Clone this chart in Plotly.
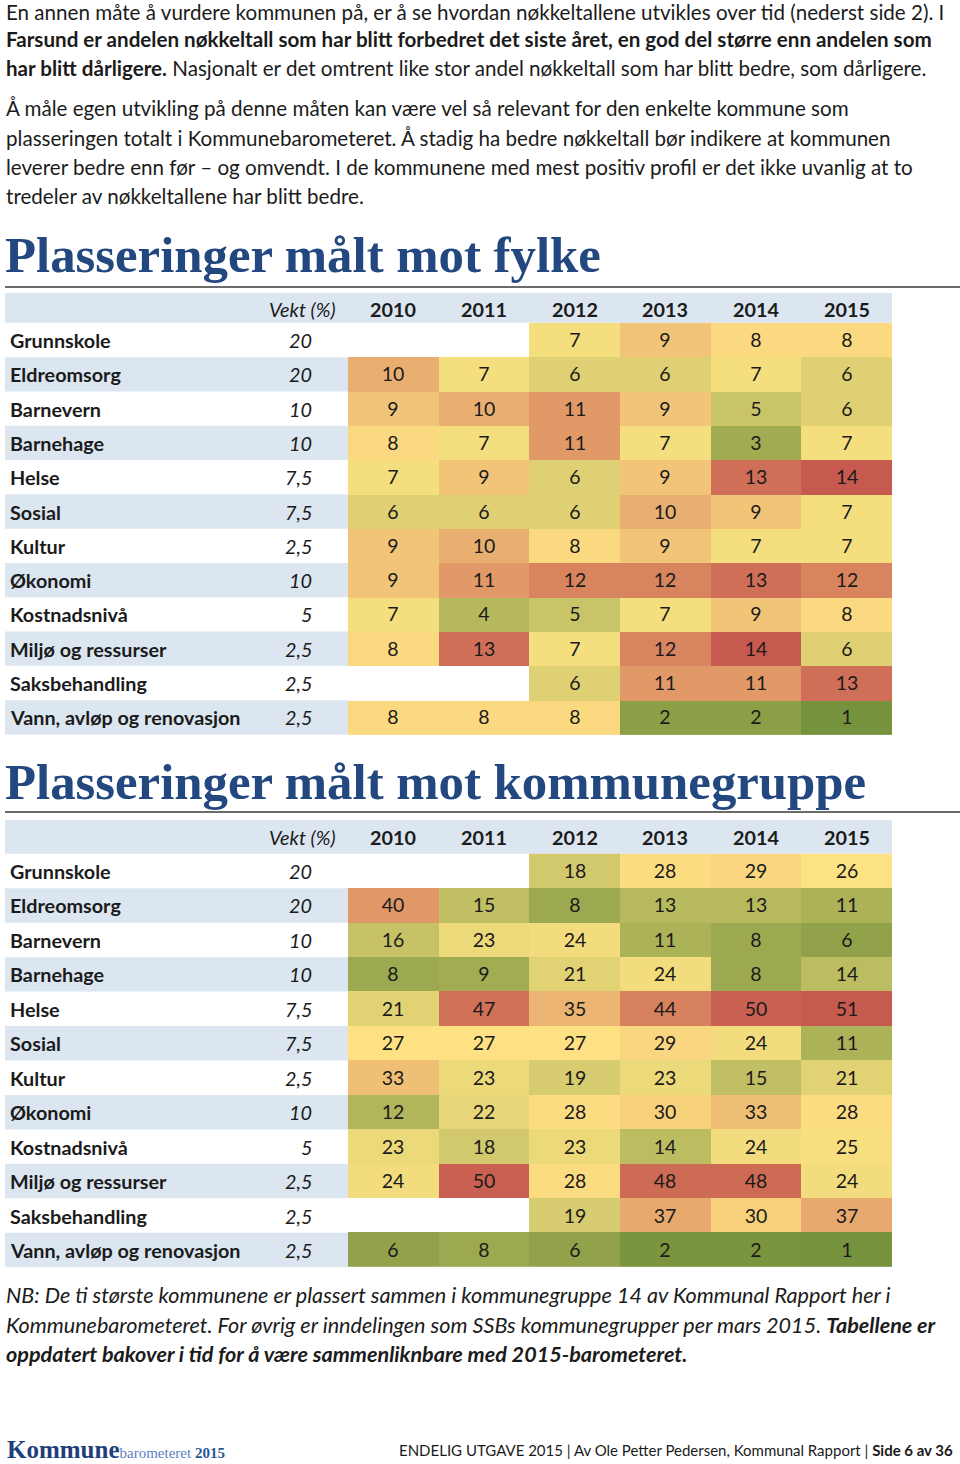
import numpy as np
import plotly.graph_objects as go

W, H = 960, 1464

# ---------------- data ----------------
years = ["2010", "2011", "2012", "2013", "2014", "2015"]
categories = ["Grunnskole", "Eldreomsorg", "Barnevern", "Barnehage", "Helse", "Sosial",
              "Kultur", "Økonomi", "Kostnadsnivå", "Miljø og ressurser",
              "Saksbehandling", "Vann, avløp og renovasjon"]
weights = ["20", "20", "10", "10", "7,5", "7,5", "2,5", "10", "5", "2,5", "2,5", "2,5"]

# Plasseringer målt mot fylke (one list per year, rows in category order)
fylke_2010 = [None, 10, 9, 8, 7, 6, 9, 9, 7, 8, None, 8]
fylke_2011 = [None, 7, 10, 7, 9, 6, 10, 11, 4, 13, None, 8]
fylke_2012 = [7, 6, 11, 11, 6, 6, 8, 12, 5, 7, 6, 8]
fylke_2013 = [9, 6, 9, 7, 9, 10, 9, 12, 7, 12, 11, 2]
fylke_2014 = [8, 7, 5, 3, 13, 9, 7, 13, 9, 14, 11, 2]
fylke_2015 = [8, 6, 6, 7, 14, 7, 7, 12, 8, 6, 13, 1]

# Plasseringer målt mot kommunegruppe
gruppe_2010 = [None, 40, 16, 8, 21, 27, 33, 12, 23, 24, None, 6]
gruppe_2011 = [None, 15, 23, 9, 47, 27, 23, 22, 18, 50, None, 8]
gruppe_2012 = [18, 8, 24, 21, 35, 27, 19, 28, 23, 28, 19, 6]
gruppe_2013 = [28, 13, 11, 24, 44, 29, 23, 30, 14, 48, 37, 2]
gruppe_2014 = [29, 13, 8, 8, 50, 24, 15, 33, 24, 48, 30, 2]
gruppe_2015 = [26, 11, 6, 14, 51, 11, 21, 28, 25, 24, 37, 1]

fylke_cols = [fylke_2010, fylke_2011, fylke_2012, fylke_2013, fylke_2014, fylke_2015]
gruppe_cols = [gruppe_2010, gruppe_2011, gruppe_2012, gruppe_2013, gruppe_2014, gruppe_2015]

# ---------------- styling ----------------
BODY = "Lato"
TITLE_FONT = "Liberation Serif"
BLUE = "#22487F"
STRIPE = "#DCE6F1"
GREEN, YELLOW, RED = "#76923C", "#FFE484", "#C75A4F"
INK = "#1b1b1b"

X0, CW = 393.3, 90.67          # centre of first year column, column width (px)


def px2x(px):
    return (px - X0) / CW


def py(px):
    return 1 - px / H


def build_z(cols):
    z = np.array([[np.nan if v is None else v for v in row]
                  for row in zip(*cols)], dtype=float)
    txt = [["" if v is None else str(v) for v in row] for row in zip(*cols)]
    return z, txt


fig = go.Figure()
annotations = []
shapes = []

tables = [
    # cols, yaxis, first-row centre px, row pitch px, header centre px, header top px, mid value
    (fylke_cols, "y", 340.0, 34.3, 309.0, 293.0, 7.5),
    (gruppe_cols, "y2", 871.0, 34.45, 837.0, 820.0, 26.5),
]

for cols, yax, c0, pitch, hc, htop, mid in tables:
    z, txt = build_z(cols)
    zmin, zmax = np.nanmin(z), np.nanmax(z)
    tmid = (mid - zmin) / (zmax - zmin)
    fig.add_trace(go.Heatmap(
        z=z, x=list(range(len(years))), y=list(range(len(categories))),
        text=txt, texttemplate="%{text}",
        textfont=dict(family=BODY, size=19.5, color=INK),
        colorscale=[[0, GREEN], [tmid, YELLOW], [1, RED]],
        zmin=zmin, zmax=zmax, showscale=False, hoverinfo="skip",
        xaxis="x", yaxis=yax, xgap=0, ygap=0,
    ))
    yref = yax
    hr = (hc - c0) / pitch
    htop_r = (htop - c0) / pitch
    # header stripe
    shapes.append(dict(type="rect", xref="x", yref=yref, x0=px2x(5), x1=px2x(892),
                       y0=htop_r, y1=-0.5, fillcolor=STRIPE, line_width=0, layer="below"))
    # row stripes + labels
    for r, cat in enumerate(categories):
        if r % 2 == 1:
            shapes.append(dict(type="rect", xref="x", yref=yref, x0=px2x(5), x1=-0.5,
                               y0=r - 0.5, y1=r + 0.5, fillcolor=STRIPE, line_width=0,
                               layer="below"))
        annotations.append(dict(x=px2x(8), y=r, xref="x", yref=yref, text=f"<b>{cat}</b>",
                                showarrow=False, xanchor="left", yanchor="middle",
                                font=dict(family=BODY, size=19.8, color=INK)))
        annotations.append(dict(x=px2x(314), y=r, xref="x", yref=yref,
                                text=f"<i>{weights[r]}</i>",
                                showarrow=False, xanchor="right", yanchor="middle",
                                font=dict(family=BODY, size=19.8, color=INK)))
    annotations.append(dict(x=px2x(338), y=hr, xref="x", yref=yref, text="<i>Vekt (%)</i>",
                            showarrow=False, xanchor="right", yanchor="middle",
                            font=dict(family=BODY, size=19.8, color=INK)))
    for i, yr in enumerate(years):
        annotations.append(dict(x=i, y=hr, xref="x", yref=yref, text=f"<b>{yr}</b>",
                                showarrow=False, xanchor="center", yanchor="middle",
                                font=dict(family=BODY, size=19.8, color=INK)))

# ---------------- page text ----------------
body_lines = [
    (12, "En annen måte å vurdere kommunen på, er å se hvordan nøkkeltallene utvikles over tid (nederst side 2). I"),
    (39, "<b>Farsund er andelen nøkkeltall som har blitt forbedret det siste året, en god del større enn andelen som</b>"),
    (68, "<b>har blitt dårligere.</b> Nasjonalt er det omtrent like stor andel nøkkeltall som har blitt bedre, som dårligere."),
    (108, "Å måle egen utvikling på denne måten kan være vel så relevant for den enkelte kommune som"),
    (138, "plasseringen totalt i Kommunebarometeret. Å stadig ha bedre nøkkeltall bør indikere at kommunen"),
    (167, "leverer bedre enn før – og omvendt. I de kommunene med mest positiv profil er det ikke uvanlig at to"),
    (196, "tredeler av nøkkeltallene har blitt bedre."),
]
for yy, t in body_lines:
    annotations.append(dict(x=4 / W, y=py(yy), xref="paper", yref="paper", text=t,
                            showarrow=False, xanchor="left", yanchor="middle",
                            font=dict(family=BODY, size=20.6, color=INK)))

note_lines = [
    (1295, "<i>NB: De ti største kommunene er plassert sammen i kommunegruppe 14 av Kommunal Rapport her i</i>"),
    (1325, "<i>Kommunebarometeret. For øvrig er inndelingen som SSBs kommunegrupper per mars 2015. <b>Tabellene er</b></i>"),
    (1354, "<i><b>oppdatert bakover i tid for å være sammenliknbare med 2015-barometeret.</b></i>"),
]
for yy, t in note_lines:
    annotations.append(dict(x=4 / W, y=py(yy), xref="paper", yref="paper", text=t,
                            showarrow=False, xanchor="left", yanchor="middle",
                            font=dict(family=BODY, size=21.6, color=INK)))

for yy, t in [(255, "Plasseringer målt mot fylke"), (782, "Plasseringer målt mot kommunegruppe")]:
    annotations.append(dict(x=3 / W, y=py(yy), xref="paper", yref="paper", text=f"<b>{t}</b>",
                            showarrow=False, xanchor="left", yanchor="middle",
                            font=dict(family=TITLE_FONT, size=50.8, color=BLUE)))

for yy in (287, 812):
    shapes.append(dict(type="line", xref="paper", yref="paper", x0=5 / W, x1=1,
                       y0=py(yy), y1=py(yy), line=dict(color="#3a3a3a", width=1.5)))

# footer
annotations.append(dict(
    x=5 / W, y=py(1449), xref="paper", yref="paper", showarrow=False,
    xanchor="left", yanchor="middle",
    text=('<b>Kommune</b><span style="font-size:15px;color:#5C80BD">barometeret </span>'
          '<span style="font-size:15px;font-weight:bold;color:#2B5597">2015</span>'),
    font=dict(family=TITLE_FONT, size=25, color="#1F3F7A")))
annotations.append(dict(
    x=955 / W, y=py(1450), xref="paper", yref="paper", showarrow=False,
    xanchor="right", yanchor="middle",
    text="ENDELIG UTGAVE 2015 | Av Ole Petter Pedersen, Kommunal Rapport | <b>Side 6 av 36</b>",
    font=dict(family=BODY, size=15, color=INK)))

# ---------------- axes ----------------
t1 = tables[0]
t2 = tables[1]
fig.update_layout(
    width=W, height=H,
    margin=dict(l=0, r=0, t=0, b=0),
    paper_bgcolor="white", plot_bgcolor="rgba(0,0,0,0)",
    showlegend=False,
    xaxis=dict(domain=[0, 1], range=[px2x(0), px2x(W)], visible=False, fixedrange=True),
    yaxis=dict(domain=[0, 1], anchor="x",
               range=[(H - t1[2]) / t1[3], -t1[2] / t1[3]], visible=False, fixedrange=True),
    yaxis2=dict(domain=[0, 1], anchor="x", overlaying="y",
                range=[(H - t2[2]) / t2[3], -t2[2] / t2[3]], visible=False, fixedrange=True),
    annotations=annotations,
    shapes=shapes,
)

fig.write_html("out.html", config={"displayModeBar": False},
               post_script="document.body.style.margin='0';")
